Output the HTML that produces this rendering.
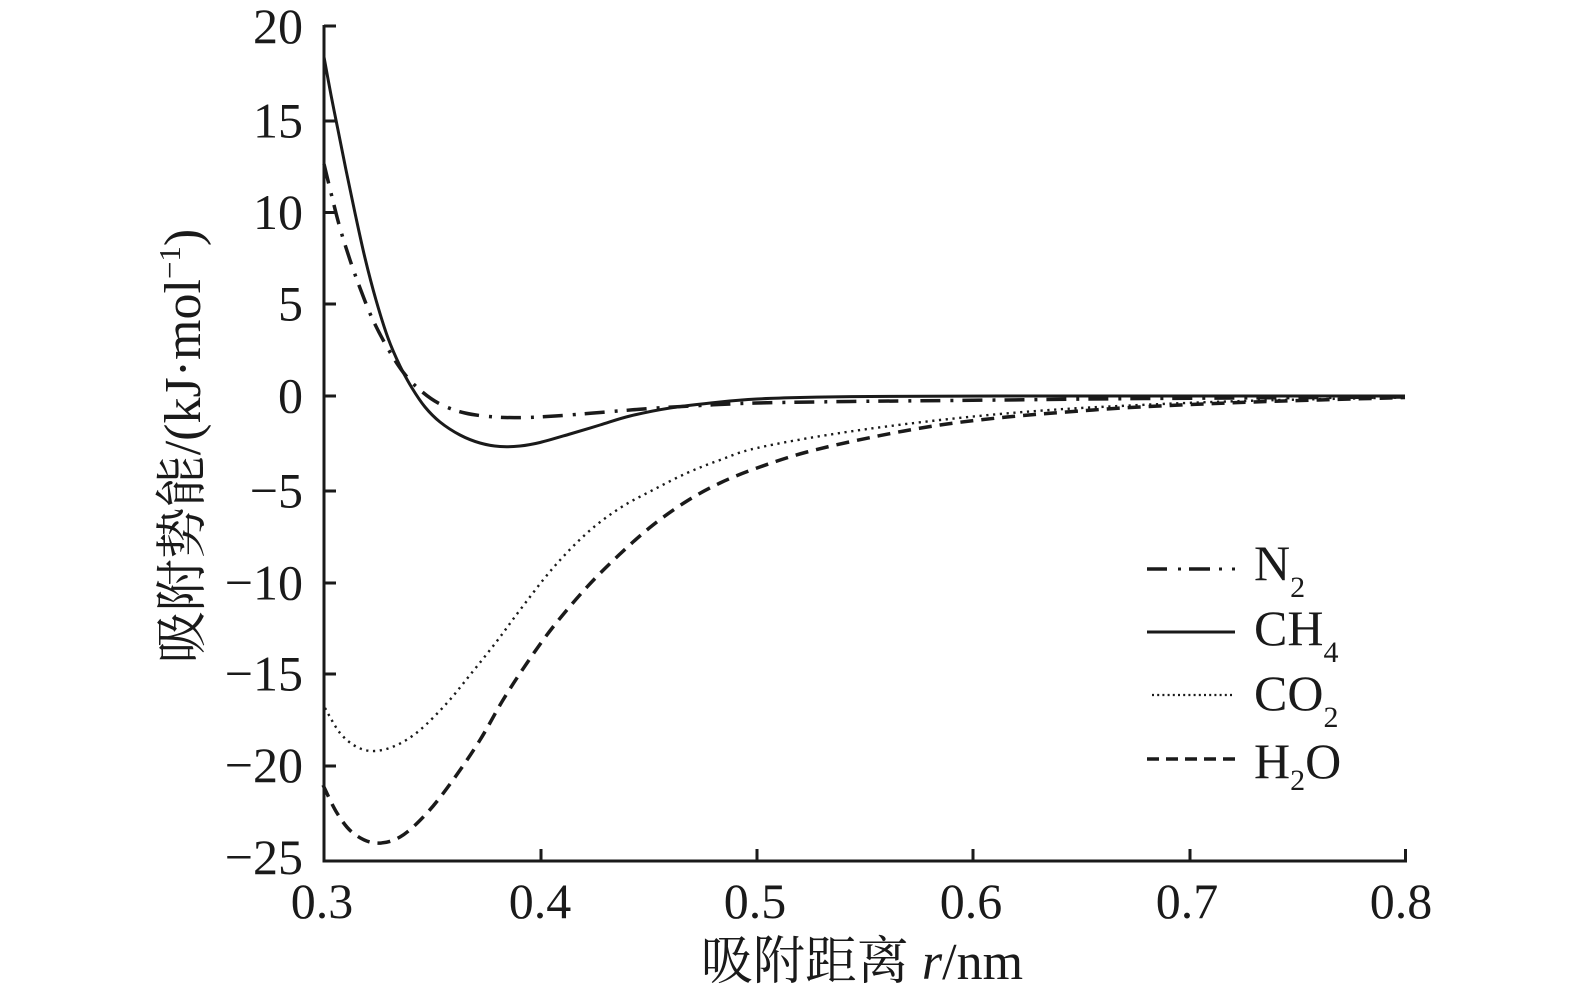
<!DOCTYPE html>
<html>
<head>
<meta charset="utf-8">
<style>
  html,body{margin:0;padding:0;background:#fff;}
  body{width:1575px;height:999px;overflow:hidden;}
  svg{display:block;}
  text{font-family:"Liberation Serif","Noto Serif CJK SC",serif;fill:#1a1a1a;}
</style>
</head>
<body>
<svg width="1575" height="999" viewBox="0 0 1575 999">
  <rect x="0" y="0" width="1575" height="999" fill="#fff"/>

  <!-- axes -->
  <g stroke="#1a1a1a" stroke-width="3" fill="none">
    <line x1="324" y1="25" x2="324" y2="862"/>
    <line x1="322.5" y1="861" x2="1407" y2="861"/>
    <!-- y ticks -->
    <line x1="324" y1="26" x2="336" y2="26"/>
    <line x1="324" y1="121" x2="336" y2="121"/>
    <line x1="324" y1="212.5" x2="336" y2="212.5"/>
    <line x1="324" y1="304" x2="336" y2="304"/>
    <line x1="324" y1="396" x2="336" y2="396"/>
    <line x1="324" y1="491" x2="336" y2="491"/>
    <line x1="324" y1="583" x2="336" y2="583"/>
    <line x1="324" y1="674" x2="336" y2="674"/>
    <line x1="324" y1="766" x2="336" y2="766"/>
    <!-- x ticks -->
    <line x1="541" y1="861" x2="541" y2="849"/>
    <line x1="757" y1="861" x2="757" y2="849"/>
    <line x1="973" y1="861" x2="973" y2="849"/>
    <line x1="1190" y1="861" x2="1190" y2="849"/>
    <line x1="1405.5" y1="862" x2="1405.5" y2="849"/>
  </g>

  <!-- y tick labels -->
  <g font-size="50" text-anchor="end">
    <text x="303" y="43">20</text>
    <text x="303" y="137.5">15</text>
    <text x="303" y="229">10</text>
    <text x="303" y="320.5">5</text>
    <text x="303" y="412.5">0</text>
    <text x="303" y="507.5">−5</text>
    <text x="303" y="599.5">−10</text>
    <text x="303" y="690.5">−15</text>
    <text x="303" y="782">−20</text>
    <text x="303" y="874">−25</text>
  </g>

  <!-- x tick labels -->
  <g font-size="50" text-anchor="middle">
    <text x="322" y="918">0.3</text>
    <text x="540" y="918">0.4</text>
    <text x="755" y="918">0.5</text>
    <text x="971" y="918">0.6</text>
    <text x="1187" y="918">0.7</text>
    <text x="1401" y="918">0.8</text>
  </g>

  <!-- axis titles -->
  <text x="862" y="979" font-size="52" text-anchor="middle">吸附距离 <tspan font-style="italic">r</tspan>/nm</text>
  <text transform="translate(200,446) rotate(-90)" font-size="52" text-anchor="middle">吸附势能/(kJ·mol<tspan font-size="31" dy="-20">−1</tspan><tspan dy="20">)</tspan></text>

  <!-- curves -->
  <g fill="none" stroke="#1a1a1a" stroke-linejoin="round">
    <!-- H2O dashed -->
    <polyline class="s" stroke-width="3.5" stroke-dasharray="13 8" points="323,785 337,813 353,833 375,843 400,837 427,813 453,780 480,740 503,700 527,663 553,627 587,587 620,554 653,525 687,501 720,483 757,468 807,452 873,437 940,425 1007,417 1073,411.5 1140,407 1253,402 1405,397.5"/>
    <!-- CO2 dotted -->
    <polyline class="s" stroke-width="2.4" stroke-dasharray="2.2 4.6" points="325,708 340,733 357,747 375,751 397,745 420,730 447,703 470,675 497,641 520,610 553,568 587,533 620,508 653,490 687,473 720,460 757,448 840,433 940,420 1040,410.7 1140,405 1253,400.7 1405,397.5"/>
    <!-- N2 dash-dot -->
    <polyline class="s" stroke-width="3.5" stroke-dasharray="20 10 3 9" points="324,164 332,197 340,228 350,260 360,288 372,318 387,347 403,372 420,390 440,404 465,413 495,417 525,417.5 555,416 600,412.5 650,408.5 700,405.5 757,403 850,401.5 1000,400 1150,398.5 1405,397"/>
    <!-- CH4 solid -->
    <polyline class="s" stroke-width="3" points="324,57 331,95 338,130 346,170 355,213 365,258 376,300 388,338 400,366 412,388 425,407 440,422 460,435 480,443 500,446.5 520,446 540,442.5 570,434 600,425 630,416 670,408 720,402 757,399 800,397.5 870,396.5 1000,396 1405,396"/>
  </g>

  <!-- legend -->
  <g stroke="#1a1a1a" fill="none">
    <line x1="1147" y1="569" x2="1167" y2="569" stroke-width="3.5"/>
    <line x1="1178" y1="569" x2="1181" y2="569" stroke-width="3"/>
    <line x1="1189" y1="569" x2="1210" y2="569" stroke-width="3.5"/>
    <line x1="1219" y1="569" x2="1222" y2="569" stroke-width="3"/>
    <line x1="1232" y1="569" x2="1235" y2="569" stroke-width="3"/>
    <line x1="1147" y1="632" x2="1235" y2="632" stroke-width="3"/>
    <line x1="1152" y1="695" x2="1234" y2="695" stroke-width="2.2" stroke-dasharray="2 3.2"/>
    <line x1="1147" y1="759" x2="1235" y2="759" stroke-width="3.5" stroke-dasharray="12 7"/>
  </g>
  <g font-size="50">
    <text x="1254" y="580">N<tspan font-size="30" dy="17">2</tspan></text>
    <text x="1254" y="645">CH<tspan font-size="30" dy="17">4</tspan></text>
    <text x="1254" y="710">CO<tspan font-size="30" dy="17">2</tspan></text>
    <text x="1254" y="778">H<tspan font-size="30" dy="12">2</tspan><tspan dy="-12">O</tspan></text>
  </g>
</svg>
<script>
(function(){
  var pls = document.querySelectorAll('polyline.s');
  for (var k = 0; k < pls.length; k++) {
    var pl = pls[k];
    var pts = pl.getAttribute('points').trim().split(/\s+/).map(function(p){return p.split(',').map(Number);});
    var d = 'M' + pts[0][0] + ',' + pts[0][1];
    for (var i = 0; i < pts.length - 1; i++) {
      var p0 = pts[i-1] || pts[i], p1 = pts[i], p2 = pts[i+1], p3 = pts[i+2] || pts[i+1];
      var c1x = p1[0] + (p2[0]-p0[0])/6, c1y = p1[1] + (p2[1]-p0[1])/6;
      var c2x = p2[0] - (p3[0]-p1[0])/6, c2y = p2[1] - (p3[1]-p1[1])/6;
      d += ' C' + c1x.toFixed(2) + ',' + c1y.toFixed(2) + ' ' + c2x.toFixed(2) + ',' + c2y.toFixed(2) + ' ' + p2[0] + ',' + p2[1];
    }
    var path = document.createElementNS(pl.namespaceURI, 'path');
    for (var j = 0; j < pl.attributes.length; j++) {
      var a = pl.attributes[j];
      if (a.name !== 'points' && a.name !== 'class') path.setAttribute(a.name, a.value);
    }
    path.setAttribute('d', d);
    pl.parentNode.replaceChild(path, pl);
  }
})();
</script>
</body>
</html>
